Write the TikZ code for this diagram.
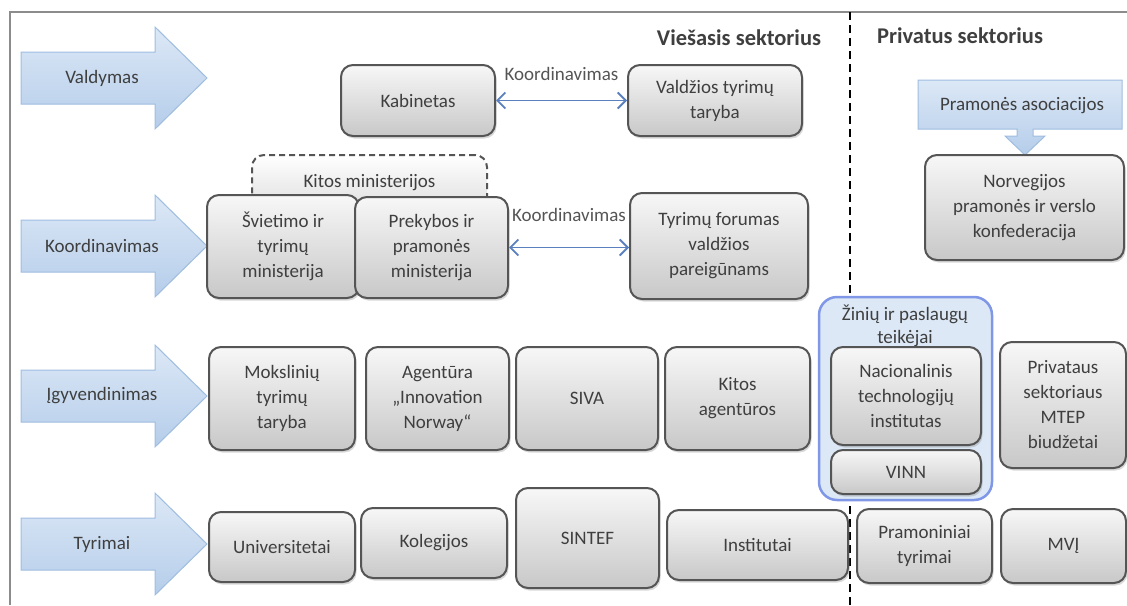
\documentclass[tikz,border=0pt]{standalone}
\usepackage{fontspec}
\setmainfont{Carlito}
\usepackage{tikz}
\usetikzlibrary{arrows.meta,shadows}
\usetikzlibrary{positioning}
\definecolor{boxline}{HTML}{555555}
\definecolor{boxtext}{HTML}{3F3F3F}
\definecolor{boxtop}{HTML}{F7F7F7}
\definecolor{boxbottom}{HTML}{C8C8C8}
\definecolor{levelfill}{HTML}{DCE8F6}
\definecolor{levelshade}{HTML}{B5CDEA}
\definecolor{levelline}{HTML}{9FBDE0}
\definecolor{linkblue}{HTML}{5B80BE}
\definecolor{framegray}{HTML}{8C8C8C}
\newcommand{\unitfont}{\fontsize{19}{25}\selectfont}
\tikzset{unit box/.style={draw=boxline, line width=2pt, rounded corners=12pt, top color=boxtop, bottom color=boxbottom, align=center, font=\unitfont, text=boxtext, drop shadow={opacity=0.3, shadow xshift=1.5pt, shadow yshift=-2.5pt}}}
\tikzset{other box/.style={draw=boxline, line width=2pt, dash pattern=on 6pt off 4pt, rounded corners=12pt, top color=white, bottom color=boxbottom!60, font=\unitfont, text=boxtext}}
\tikzset{level arrow/.style={draw=levelline, line width=1pt, top color=levelfill, bottom color=levelshade}}
\tikzset{level label/.style={font=\unitfont, text=boxtext}}
\tikzset{sector label/.style={font=\fontsize{22.5}{26}\selectfont\bfseries, text=boxtext}}
\tikzset{coord link/.style={draw=linkblue, line width=1.8pt, {Straight Barb[length=8pt,width=16pt]}-{Straight Barb[length=8pt,width=16pt]}}}
\tikzset{provider box/.style={draw=levelline!80!blue, line width=2.5pt, rounded corners=18pt, fill=levelfill}}
\begin{document}
\begin{tikzpicture}[x=1pt, y=-1pt]
\useasboundingbox (0,0) rectangle (1127,605);
\draw[framegray, line width=2pt] (10,605) -- (10,12) -- (1127,12);
\draw[black, line width=2.5pt, dash pattern=on 8pt off 5pt] (850,12) -- (850,605);
\node[sector label] (public) at (739,38) {Viešasis sektorius};
\node[sector label] (private) at (960,36) {Privatus sektorius};
\foreach \y/\lbl/\nm in {78/Valdymas/valdymas, 246/Koordinavimas/koordinavimas, 396/Įgyvendinimas/igyvendinimas, 544/Tyrimai/tyrimai} {
  \draw[level arrow] (21,\y-26) -- (155,\y-26) -- (155,\y-51) -- (207,\y) -- (155,\y+51) -- (155,\y+26) -- (21,\y+26) -- cycle;
  \node[level label] (\nm) at (102,\y) {\lbl};
}
\node[unit box, minimum width=154pt, minimum height=71pt] (kabinetas) at (418,100.5) {Kabinetas};
\node[unit box, minimum width=174pt, minimum height=71pt] (taryba) at (715,100.5) {Valdžios tyrimų\\taryba};
\draw[coord link] (kabinetas.east) -- (taryba.west) node[midway, above=16pt, font=\unitfont, text=boxline] {Koordinavimas};
\node[other box, minimum width=235pt, minimum height=56pt] (kitos) at (369.5,183) {Kitos ministerijos};
\node[unit box, minimum width=152pt, minimum height=103pt] (svietimas) at (283,246.5) {Švietimo ir\\tyrimų\\ministerija};
\node[unit box, minimum width=153pt, minimum height=101pt] (prekyba) at (431.5,247.5) {Prekybos ir\\pramonės\\ministerija};
\node[unit box, minimum width=178pt, minimum height=106pt] (forumas) at (719,246) {Tyrimų forumas\\valdžios\\pareigūnams};
\draw[coord link] (prekyba.east) -- (prekyba.east -| forumas.west) node[midway, above=22pt, font=\unitfont, text=boxline] {Koordinavimas};
\draw[level arrow] (918,80) -- (1122,80) -- (1122,129) -- (1033,129) -- (1033,136) -- (1045,136) -- (1025,155) -- (1005,136) -- (1017,136) -- (1017,129) -- (918,129) -- cycle;
\node[level label] (asociacijos) at (1022,106) {Pramonės asociacijos};
\node[unit box, minimum width=199pt, minimum height=105pt] (konfederacija) at (1024.5,207.5) {Norvegijos\\pramonės ir verslo\\konfederacija};
\node[unit box, minimum width=146pt, minimum height=103pt] (mokslas) at (282,398.5) {Mokslinių\\tyrimų\\taryba};
\node[unit box, minimum width=143pt, minimum height=103pt] (agentura) at (437.5,398.5) {Agentūra\\„Innovation\\Norway“};
\node[unit box, minimum width=142pt, minimum height=103pt] (siva) at (587,398.5) {SIVA};
\node[unit box, minimum width=145pt, minimum height=103pt] (agenturos) at (737.5,398.5) {Kitos\\agentūros};
\node[provider box, minimum width=173pt, minimum height=203pt] (teikejai) at (905.5,398.5) {};
\node[level label, align=center, font=\fontsize{19}{23}\selectfont] (teikejaiT) at (905,326) {Žinių ir paslaugų\\teikėjai};
\node[unit box, minimum width=150pt, minimum height=98pt] (institutas) at (906,396) {Nacionalinis\\technologijų\\institutas};
\node[unit box, minimum width=150pt, minimum height=44pt] (vinn) at (906,472) {VINN};
\node[unit box, minimum width=126pt, minimum height=126pt] (biudzetai) at (1063,405) {Privataus\\sektoriaus\\MTEP\\biudžetai};
\node[unit box, minimum width=146pt, minimum height=70pt] (universitetai) at (282,547) {Universitetai};
\node[unit box, minimum width=146pt, minimum height=70pt] (kolegijos) at (434,543) {Kolegijos};
\node[unit box, minimum width=143pt, minimum height=100pt] (sintef) at (587.5,538) {SINTEF};
\node[unit box, minimum width=181pt, minimum height=70pt] (institutai) at (757.5,545) {Institutai};
\node[unit box, minimum width=135pt, minimum height=74pt] (pramoniniai) at (924.5,546) {Pramoniniai\\tyrimai};
\node[unit box, minimum width=125pt, minimum height=74pt] (mvi) at (1063.5,546) {MVĮ};
\end{tikzpicture}
\end{document}
